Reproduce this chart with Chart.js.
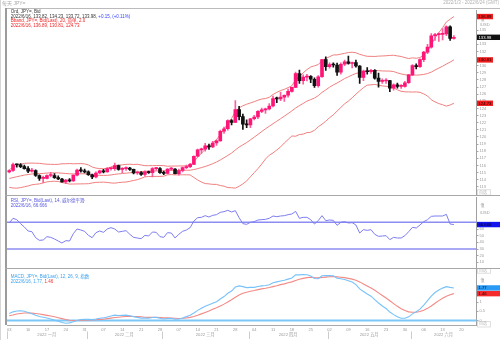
<!DOCTYPE html>
<html><head><meta charset="utf-8">
<script src="https://cdn.jsdelivr.net/npm/chart.js@4.4.1/dist/chart.umd.min.js"></script>
<style>
html,body{margin:0;padding:0;background:#fff;}
#wrap{position:relative;width:500px;height:340px;overflow:hidden;background:#fff;}
canvas{position:absolute;left:0;}
.ln{position:absolute;}
</style></head><body>
<div id="wrap">
<canvas id="cMain" width="500" height="196" style="top:0"></canvas>
<canvas id="cRsi" width="500" height="72" style="top:196px"></canvas>
<canvas id="cMacd" width="500" height="72" style="top:268px"></canvas>
<div class="ln" style="left:0;top:0;width:1px;height:340px;background:#d6d6d6"></div>
<div class="ln" style="left:5px;top:8px;width:495px;height:1px;background:#bbbbbb"></div>
<div class="ln" style="left:5px;top:8px;width:2px;height:317px;background:#9c9c9c"></div>
<div class="ln" style="left:5px;top:195px;width:495px;height:1px;background:#a8a8a8"></div>
<div class="ln" style="left:5px;top:268px;width:495px;height:1px;background:#a8a8a8"></div>
</div>
<script>
const FONT = '"Liberation Sans", "Noto Sans CJK SC", sans-serif';

const dates = [
'01-03','01-04','01-05','01-06','01-07','01-10','01-11','01-12','01-13','01-14','01-17','01-18','01-19','01-20','01-21','01-24','01-25','01-26','01-27','01-28','01-31',
'02-01','02-02','02-03','02-04','02-07','02-08','02-09','02-10','02-11','02-14','02-15','02-16','02-17','02-18','02-21','02-22','02-23','02-24','02-25','02-28',
'03-01','03-02','03-03','03-04','03-07','03-08','03-09','03-10','03-11','03-14','03-15','03-16','03-17','03-18','03-21','03-22','03-23','03-24','03-25','03-28','03-29','03-30','03-31',
'04-01','04-04','04-05','04-06','04-07','04-08','04-11','04-12','04-13','04-14','04-15','04-18','04-19','04-20','04-21','04-22','04-25','04-26','04-27','04-28','04-29',
'05-02','05-03','05-04','05-05','05-06','05-09','05-10','05-11','05-12','05-13','05-16','05-17','05-18','05-19','05-20','05-23','05-24','05-25','05-26','05-27','05-30','05-31',
'06-01','06-02','06-03','06-06','06-07','06-08','06-09','06-10','06-13','06-14','06-15','06-16','06-17','06-20','06-21','06-22','06-23','06-24'];
const dateTicks = ['01-03','01-10','01-17','01-24','01-31','02-07','02-14','02-21','02-28','03-07','03-14','03-21','03-28','04-04','04-11','04-18','04-25','05-02','05-09','05-16','05-23','05-30','06-06','06-13','06-20'];
const monthKeys = ['01','02','03','04','05','06'];
const monthLabels = ['2022 一月','2022 二月','2022 三月','2022 四月','2022 五月','2022 六月'];

const open = [115.08,115.30,116.12,116.10,115.85,115.55,115.20,115.30,114.60,114.20,114.20,114.60,114.60,114.30,114.10,113.70,113.95,113.85,114.65,115.35,115.25,
115.10,114.70,114.40,114.95,115.25,115.10,115.55,115.55,116.00,115.45,115.55,115.65,115.45,114.95,115.00,114.75,115.10,115.00,115.55,115.55,
115.00,114.90,115.50,115.50,114.85,115.30,115.70,115.85,116.15,117.30,118.20,118.30,118.75,118.60,119.15,119.45,120.80,121.15,122.30,122.05,123.85,122.85,121.80,
121.70,122.55,122.80,123.60,123.80,123.95,124.35,125.40,125.35,125.60,125.85,126.40,126.95,128.90,127.90,128.40,128.50,128.10,127.20,128.45,130.85,
129.85,130.15,130.10,129.10,130.20,130.55,130.30,130.45,129.95,128.35,129.25,129.15,129.35,128.25,127.80,127.85,127.90,126.85,127.30,127.10,127.10,127.60,
128.70,130.00,129.85,130.85,131.90,132.60,134.20,134.35,134.40,134.45,135.45,133.82];
const high = [115.40,116.35,116.18,116.25,116.05,115.85,115.60,115.40,114.70,114.50,114.70,115.05,114.85,114.55,114.20,114.05,114.15,114.70,115.50,115.70,115.50,
115.25,114.80,115.10,115.35,115.45,115.70,115.65,116.35,116.05,115.70,115.80,115.75,115.50,115.20,115.15,115.25,115.20,115.70,115.75,115.70,
115.20,115.55,115.75,115.55,115.50,115.80,116.05,116.30,117.35,118.30,118.45,119.10,119.00,119.40,119.60,120.95,121.40,122.40,122.45,125.10,124.30,123.20,122.40,
122.60,123.05,123.70,124.05,124.05,124.70,125.75,125.60,126.30,125.90,126.70,127.00,129.10,129.40,128.70,128.80,128.60,128.30,128.60,130.90,131.25,
130.40,130.40,130.35,130.40,130.80,131.35,130.50,130.80,130.00,129.40,129.75,129.50,129.45,128.95,128.15,128.20,127.95,127.45,127.55,127.35,127.80,128.80,
130.15,130.25,130.95,132.00,133.00,134.50,134.55,134.60,135.20,135.60,135.60,134.23];
const low = [114.94,115.15,115.75,115.70,115.50,115.00,115.05,114.45,113.90,113.60,114.10,114.40,114.20,114.00,113.65,113.45,113.70,113.75,114.55,115.05,114.95,
114.60,114.15,114.25,114.80,114.95,115.05,115.35,115.30,115.35,115.00,115.30,115.30,114.80,114.75,114.60,114.50,114.90,114.40,115.30,114.90,
114.70,114.80,115.30,114.80,114.65,115.10,115.55,115.70,116.10,117.20,117.70,118.00,118.25,118.50,118.80,119.40,120.50,120.95,121.70,122.00,122.40,121.05,121.30,
121.30,122.40,122.55,123.40,123.30,123.80,124.20,124.80,125.10,125.00,125.60,126.30,126.90,127.50,127.40,127.85,127.60,126.95,127.00,128.35,129.35,
129.65,129.80,128.65,128.80,130.00,130.20,129.70,129.80,127.50,127.90,128.80,128.90,128.10,127.00,127.50,127.50,126.35,126.55,126.85,126.80,127.00,127.50,
128.60,129.55,129.75,130.55,131.70,132.45,133.55,133.40,133.60,134.20,133.55,133.72];
const close = [115.30,116.12,116.10,115.85,115.55,115.20,115.30,114.60,114.20,114.20,114.60,114.60,114.30,114.10,113.70,113.95,113.85,114.65,115.35,115.25,115.10,
114.70,114.40,114.95,115.25,115.10,115.55,115.55,116.00,115.45,115.55,115.65,115.45,114.95,115.00,114.75,115.10,115.00,115.55,115.55,115.00,
114.90,115.50,115.50,114.85,115.30,115.70,115.85,116.15,117.30,118.20,118.30,118.75,118.60,119.15,119.45,120.80,121.15,122.30,122.05,123.85,122.85,121.80,121.70,
122.55,122.80,123.60,123.80,123.95,124.35,125.40,125.35,125.60,125.85,126.40,126.95,128.90,127.90,128.40,128.50,128.10,127.20,128.45,130.85,129.85,
130.15,130.10,129.10,130.20,130.55,130.30,130.45,129.95,128.35,129.25,129.15,129.35,128.25,127.80,127.85,127.90,126.85,127.30,127.10,127.10,127.60,128.70,
130.00,129.85,130.85,131.90,132.60,134.20,134.35,134.40,134.45,135.45,133.83,133.98];

const bbUpper = [115.40,115.76,116.02,116.18,116.29,116.33,116.33,116.32,116.30,116.23,116.18,116.16,116.15,116.16,116.24,116.24,116.27,116.24,116.25,116.26,116.23,
116.08,115.79,115.63,115.57,115.55,115.62,115.79,116.00,116.04,116.09,116.16,116.18,116.14,116.17,116.07,115.97,115.97,115.98,115.99,115.99,
115.98,115.89,115.92,115.92,115.93,115.94,115.97,116.00,116.55,117.16,117.72,118.26,118.66,119.15,119.63,120.35,121.06,121.94,122.60,123.54,124.08,124.38,124.59,
124.77,124.95,125.16,125.32,125.39,125.56,125.96,126.25,126.52,126.68,126.92,127.18,128.02,128.46,129.00,129.45,129.82,129.98,130.15,130.71,131.01,
131.26,131.50,131.51,131.62,131.73,131.84,131.89,131.81,131.59,131.44,131.31,131.31,131.29,131.34,131.36,131.39,131.44,131.46,131.37,131.29,131.13,131.00,
131.10,131.04,131.14,131.52,132.03,132.98,133.88,134.64,135.32,136.13,136.52,136.89];
const bbMiddle = [114.18,114.30,114.42,114.54,114.65,114.73,114.81,114.84,114.86,114.89,114.94,114.96,114.97,114.96,114.92,114.88,114.83,114.82,114.83,114.84,114.83,
114.76,114.67,114.63,114.61,114.61,114.62,114.67,114.76,114.82,114.87,114.92,114.98,115.02,115.09,115.13,115.19,115.21,115.22,115.23,115.23,
115.24,115.29,115.32,115.30,115.31,115.32,115.33,115.34,115.43,115.56,115.70,115.86,116.04,116.25,116.49,116.77,117.08,117.42,117.74,118.18,118.58,118.90,119.21,
119.59,119.97,120.36,120.76,121.15,121.50,121.86,122.21,122.56,122.92,123.28,123.66,124.06,124.40,124.70,125.03,125.24,125.46,125.79,126.25,126.61,
126.98,127.30,127.57,127.88,128.19,128.44,128.69,128.91,129.03,129.18,129.29,129.31,129.33,129.30,129.26,129.25,129.24,129.18,128.99,128.85,128.73,128.66,
128.70,128.68,128.70,128.78,128.89,129.10,129.40,129.66,129.92,130.23,130.50,130.81];
const bbLower = [112.95,112.84,112.82,112.90,113.01,113.13,113.29,113.36,113.42,113.55,113.70,113.76,113.79,113.76,113.60,113.52,113.39,113.40,113.41,113.42,113.43,
113.44,113.55,113.63,113.65,113.67,113.62,113.55,113.52,113.60,113.65,113.68,113.78,113.90,114.01,114.19,114.41,114.45,114.46,114.47,114.47,
114.50,114.69,114.72,114.68,114.69,114.70,114.69,114.68,114.31,113.96,113.68,113.46,113.42,113.35,113.35,113.19,113.10,112.90,112.88,112.82,113.08,113.42,113.83,
114.41,114.99,115.56,116.20,116.91,117.44,117.76,118.17,118.60,119.16,119.64,120.14,120.10,120.34,120.40,120.61,120.66,120.94,121.43,121.79,122.21,
122.70,123.10,123.63,124.14,124.65,125.04,125.49,126.01,126.47,126.92,127.27,127.31,127.37,127.26,127.16,127.11,127.04,126.90,126.61,126.41,126.33,126.32,
126.30,126.32,126.26,126.04,125.75,125.22,124.92,124.68,124.52,124.33,124.48,124.73];

const rsi = [69,76,74,68,63,57,56,47,43,43.5,48.5,47.5,45,42,39,42.5,42,53,60,58.5,56.5,
50.5,47,54.5,57,55,60,62,60,55.5,56.5,57.5,52,47.5,46.5,45.5,50.5,49.5,55.5,55,48.5,
47.5,54.5,54,46.5,52,56.5,58.5,62,72,77,77.5,80,78,80.5,81.5,85,86,88,85.5,87.5,77,68,67,
70,71,73.5,74,74.5,76,79.5,78.5,79.5,80,81.5,82.5,86.5,76,77.5,77.5,74,67.5,72.5,80,72.5,
73.5,73,65.5,70,71,69,69.5,66,54,59,58,59,52,49,49.5,50,44,47.5,46.5,46.5,50,56,
62.5,61.5,66,71,74,79,79.5,79.5,79.5,82,67.5,66.666];

const macdLine = [0.38,0.47,0.52,0.53,0.50,0.44,0.37,0.29,0.22,0.18,0.14,0.08,0.02,-0.04,-0.11,-0.15,-0.13,-0.07,0.00,0.05,0.07,
0.06,0.05,0.08,0.12,0.14,0.19,0.24,0.29,0.27,0.28,0.29,0.26,0.21,0.17,0.13,0.13,0.12,0.16,0.17,0.12,
0.08,0.11,0.12,0.07,0.08,0.14,0.21,0.29,0.41,0.55,0.66,0.77,0.85,0.94,1.02,1.17,1.30,1.48,1.60,1.82,1.88,1.84,1.79,
1.80,1.80,1.85,1.88,1.90,1.94,2.05,2.10,2.15,2.19,2.25,2.31,2.48,2.48,2.50,2.49,2.42,2.28,2.27,2.43,2.44,
2.45,2.43,2.30,2.27,2.23,2.16,2.09,1.95,1.72,1.58,1.44,1.32,1.13,0.95,0.79,0.65,0.46,0.32,0.20,0.12,0.12,0.20,
0.36,0.48,0.62,0.84,1.08,1.32,1.52,1.66,1.76,1.84,1.80,1.77];
const macdSignal = [0.26,0.30,0.35,0.38,0.41,0.41,0.40,0.38,0.35,0.32,0.28,0.24,0.20,0.15,0.10,0.05,0.01,0.00,0.00,0.01,0.02,
0.03,0.03,0.04,0.06,0.07,0.10,0.13,0.16,0.18,0.20,0.22,0.23,0.22,0.21,0.20,0.18,0.17,0.17,0.17,0.16,
0.14,0.14,0.13,0.12,0.11,0.12,0.14,0.17,0.22,0.28,0.36,0.44,0.52,0.61,0.69,0.79,0.89,1.01,1.13,1.26,1.39,1.48,1.54,
1.59,1.63,1.68,1.72,1.75,1.79,1.84,1.89,1.95,1.99,2.05,2.10,2.17,2.24,2.29,2.33,2.35,2.33,2.32,2.34,2.36,
2.38,2.39,2.37,2.35,2.33,2.29,2.25,2.19,2.10,1.99,1.88,1.77,1.64,1.50,1.36,1.22,1.07,0.92,0.77,0.64,0.54,0.47,
0.45,0.45,0.49,0.56,0.66,0.79,0.94,1.08,1.21,1.32,1.40,1.46];

const priceTicks = [113,114,115,116,117,118,119,120,121,122,123,124,125,126,127,128,129,130,131,132,133,134,135];
const rsiTicks = [10,20,30,40,50,60];
const macdTicks = [0,0.5,1];
const rsiLevels = [70,30];

const legendMain = ['Ord, JPY=, Bid','2022/6/16, 133.82, 134.23, 133.72, 133.98, ','+0.15, (+0.11%)','Bband, JPY=, Bid(Last), 20, 简单, 2.0','2022/6/16, 136.89, 130.81, 124.73'];
const legendRsi = ['RSI, JPY=, Bid(Last), 14, 威尔德平滑','2022/6/16, 66.666'];
const legendMacd = ['MACD, JPY=, Bid(Last), 12, 26, 9, 指数','2022/6/16, 1.77, ','1.46'];

const X_MIN = -0.6, X_MAX = dates.length - 1;
const UP = '#ff1477', UPW = '#ff5c9d', DN = '#111111';
const BAND = '#f07f7f';

function txt(ctx, s, x, y, color, size, align) {
  ctx.save();
  ctx.font = size + 'px ' + FONT;
  ctx.fillStyle = color; ctx.textAlign = align || 'left'; ctx.textBaseline = 'middle';
  ctx.fillText(s, x, y);
  const w = ctx.measureText(s).width;
  ctx.restore();
  return w;
}
function box(ctx, x, y, w, h, bg, fg, s) {
  ctx.save(); ctx.fillStyle = bg; ctx.fillRect(x, y - h / 2, w, h); ctx.restore();
  txt(ctx, s, x + 1.5, y + 0.2, fg, 4.2);
}
function selBox(ctx, y) {
  ctx.save(); ctx.strokeStyle = '#d6d6d6'; ctx.lineWidth = 0.8;
  ctx.strokeRect(477.5, y - 2.7, 13, 5.4); ctx.restore();
  txt(ctx, '自选', 479, y, '#b8b8b8', 4);
}
function fitY(s) { s.width = 23.5; s.paddingTop = 0; s.paddingBottom = 0; }
function yAxis(min, max, ticks) {
  return {
    position: 'right', min: min, max: max,
    afterBuildTicks: s => { s.ticks = ticks.map(v => ({ value: v })); },
    afterFit: fitY,
    ticks: { font: { size: 4, family: FONT }, color: '#9a9a9a', padding: 1, autoSkip: false, callback: v => String(v) },
    grid: { drawOnChartArea: false, tickLength: 2, color: '#a8a8a8' },
    border: { display: true, color: '#a0a0a0', width: 1 }
  };
}
const hiddenX = { type: 'linear', min: X_MIN, max: X_MAX, offset: false, display: false };
const base = { responsive: false, animation: false, devicePixelRatio: 1, events: [],
  plugins: { legend: { display: false }, tooltip: { enabled: false } } };

// ---------- main candle chart ----------
const upFlag = close.map((c, i) => c >= open[i]);
new Chart(document.getElementById('cMain'), {
  type: 'bar',
  data: { datasets: [
    { type: 'line', data: bbUpper.map((v, i) => ({ x: i, y: v })), borderColor: BAND, borderWidth: 1, pointRadius: 0, order: 3 },
    { type: 'line', data: bbMiddle.map((v, i) => ({ x: i, y: v })), borderColor: BAND, borderWidth: 1, pointRadius: 0, order: 3 },
    { type: 'line', data: bbLower.map((v, i) => ({ x: i, y: v })), borderColor: BAND, borderWidth: 1, pointRadius: 0, order: 3 },
    { type: 'bar', data: close.map((c, i) => ({ x: i, y: [low[i], high[i]] })), backgroundColor: upFlag.map(u => u ? UPW : DN),
      barThickness: 1, grouped: false, borderWidth: 0, order: 2 },
    { type: 'bar', data: close.map((c, i) => ({ x: i, y: [open[i], c] })), backgroundColor: upFlag.map(u => u ? UP : DN),
      barThickness: 3, minBarLength: 1, grouped: false, borderWidth: 0, order: 1 }
  ] },
  options: Object.assign({}, base, {
    layout: { padding: { left: 7, right: 0, top: 10, bottom: 2 } },
    scales: { x: hiddenX, y: yAxis(112.0, 137.81, priceTicks) }
  }),
  plugins: [{ id: 'decoMain', afterDraw(chart) {
    const ctx = chart.ctx, ys = chart.scales.y;
    txt(ctx, '每天 JPY=', 2, 3.5, '#a8a8a8', 5);
    txt(ctx, '2022/1/3 - 2022/6/24 (GMT)', 499, 3, '#b0b0b0', 4.5, 'right');
    txt(ctx, legendMain[0], 10.7, 12, '#333', 4.5);
    const w = txt(ctx, legendMain[1], 10.7, 16.6, '#333', 4.5);
    txt(ctx, legendMain[2], 10.7 + w, 16.6, '#3344ff', 4.5);
    txt(ctx, legendMain[3], 10.7, 21, '#ee2222', 4.5);
    txt(ctx, legendMain[4], 10.7, 25.4, '#ee2222', 4.5);
    txt(ctx, '值', 480.5, 19.5, '#9a9a9a', 4);
    txt(ctx, '/USD', 480, 24.5, '#9a9a9a', 4);
    const n = close.length - 1;
    box(ctx, 477, ys.getPixelForValue(bbUpper[n]), 16, 5.4, '#ee1c1c', '#200000', bbUpper[n].toFixed(2));
    box(ctx, 477, ys.getPixelForValue(bbMiddle[n]), 16, 5.4, '#ee1c1c', '#200000', bbMiddle[n].toFixed(2));
    box(ctx, 477, ys.getPixelForValue(bbLower[n]), 16, 5.4, '#ee1c1c', '#200000', bbLower[n].toFixed(2));
    box(ctx, 477, ys.getPixelForValue(close[n]), 23, 5.4, '#111111', '#ffffff', close[n].toFixed(2));
    selBox(ctx, 192.5);
  } }]
});

// ---------- RSI ----------
new Chart(document.getElementById('cRsi'), {
  type: 'line',
  data: { datasets: [
    { data: rsi.map((v, i) => ({ x: i, y: v })), borderColor: '#7d7df0', borderWidth: 1, pointRadius: 0 }
  ] },
  options: Object.assign({}, base, {
    layout: { padding: { left: 7, right: 0, top: 1, bottom: 1 } },
    scales: { x: hiddenX, y: yAxis(3, 108, rsiTicks) }
  }),
  plugins: [{ id: 'decoRsi',
    beforeDatasetsDraw(chart) {
      const ctx = chart.ctx, ys = chart.scales.y, ca = chart.chartArea;
      ctx.save(); ctx.strokeStyle = '#8c8cf3'; ctx.lineWidth = 1.5;
      rsiLevels.forEach(v => { const y = ys.getPixelForValue(v); ctx.beginPath(); ctx.moveTo(ca.left, y); ctx.lineTo(ca.right, y); ctx.stroke(); });
      ctx.restore();
    },
    afterDraw(chart) {
      const ctx = chart.ctx, ys = chart.scales.y;
      txt(ctx, legendRsi[0], 10.7, 4.7, '#5555dd', 4.5);
      txt(ctx, legendRsi[1], 10.7, 9.3, '#5555dd', 4.5);
      txt(ctx, '值', 480.5, 9.7, '#9a9a9a', 4);
      txt(ctx, '/USD', 480, 16.7, '#9a9a9a', 4);
      const n = rsi.length - 1;
      box(ctx, 477, ys.getPixelForValue(rsi[n]), 23, 5.4, '#1414ee', '#000010', rsi[n].toFixed(3));
    } }]
});

// ---------- MACD ----------
new Chart(document.getElementById('cMacd'), {
  type: 'line',
  data: { datasets: [
    { data: macdLine.map((v, i) => ({ x: i, y: v })), borderColor: '#78c2fa', borderWidth: 1.1, pointRadius: 0 },
    { data: macdSignal.map((v, i) => ({ x: i, y: v })), borderColor: '#f28a86', borderWidth: 1.1, pointRadius: 0 }
  ] },
  options: Object.assign({}, base, {
    layout: { padding: { left: 7, right: 0, top: 1, bottom: 8 } },
    scales: {
      x: { type: 'linear', min: X_MIN, max: X_MAX, offset: false,
        afterBuildTicks: s => { s.ticks = dateTicks.map(d => ({ value: dates.indexOf(d) })); },
        afterFit: s => { s.height = 7; s.paddingLeft = 0; s.paddingRight = 0; },
        ticks: { font: { size: 4, family: FONT }, color: '#9a9a9a', padding: 2, autoSkip: false, maxRotation: 0,
          callback: v => (dates[v] ? dates[v].slice(3) : '') },
        grid: { display: false, drawTicks: false },
        border: { display: true, color: '#a8a8a8', width: 1 } },
      y: yAxis(-0.245, 2.80, macdTicks)
    }
  }),
  plugins: [{ id: 'decoMacd',
    beforeDatasetsDraw(chart) {
      const ctx = chart.ctx, ys = chart.scales.y, ca = chart.chartArea;
      const y = ys.getPixelForValue(0);
      ctx.save(); ctx.strokeStyle = '#7cc8f8'; ctx.lineWidth = 2;
      ctx.beginPath(); ctx.moveTo(ca.left, y); ctx.lineTo(ca.right, y); ctx.stroke(); ctx.restore();
    },
    afterDraw(chart) {
      const ctx = chart.ctx, ys = chart.scales.y, xs = chart.scales.x, ca = chart.chartArea;
      txt(ctx, legendMacd[0], 10.7, 9, '#3aa0ee', 4.5);
      const w = txt(ctx, legendMacd[1], 10.7, 13.7, '#3aa0ee', 4.5);
      txt(ctx, legendMacd[2], 10.7 + w, 13.7, '#ee3333', 4.5);
      txt(ctx, '值', 480.5, 12.7, '#9a9a9a', 4);
      const n = macdLine.length - 1;
      box(ctx, 477, ys.getPixelForValue(macdLine[n]), 23, 5.4, '#2a9bf5', '#000010', macdLine[n].toFixed(2));
      box(ctx, 477, ys.getPixelForValue(macdSignal[n]), 23, 5.4, '#f52a2a', '#200000', macdSignal[n].toFixed(2));
      selBox(ctx, 2.5);
      selBox(ctx, 56.3);
      // month row
      monthKeys.forEach((m, k) => {
        const idx = []; dates.forEach((d, i) => { if (d.startsWith(m)) idx.push(i); });
        const a = k === 0 ? ca.left : xs.getPixelForValue(idx[0] - 0.5);
        const b = k === monthKeys.length - 1 ? ca.right : xs.getPixelForValue(idx[idx.length - 1] + 0.5);
        ctx.save(); ctx.strokeStyle = '#cccccc'; ctx.lineWidth = 1;
        ctx.beginPath(); ctx.moveTo(Math.round(a) + 0.5, 63.5); ctx.lineTo(Math.round(a) + 0.5, 71); ctx.stroke(); ctx.restore();
        txt(ctx, monthLabels[k], (a + b) / 2, 67.3, '#9a9a9a', 4.2, 'center');
      });
    } }]
});
</script>
</body></html>
